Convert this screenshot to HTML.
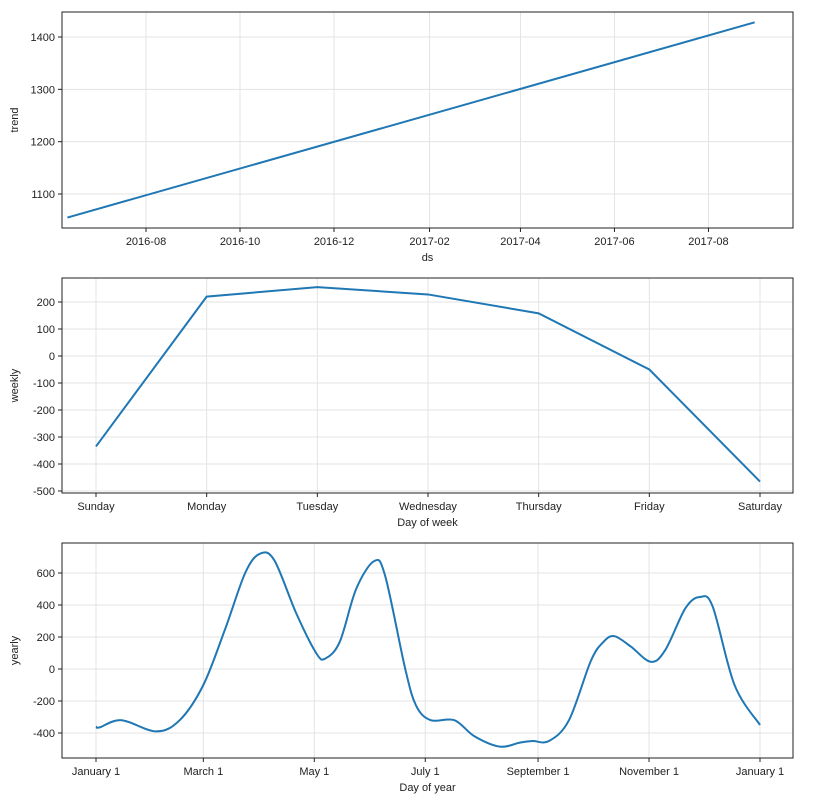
<!DOCTYPE html>
<html><head><meta charset="utf-8"><style>
body{margin:0;background:#fff;}
svg{display:block;font-family:"Liberation Sans","Noto Sans CJK KR",sans-serif;font-size:11px;fill:#222;}
</style></head><body>
<svg id="c" width="818" height="809"></svg>
<script>
const trendDates=["2016-06-11","2017-08-31"];
const trendValues=[1055,1428];
const trendTicks=[1100,1200,1300,1400];
const trendXTicks=["2016-08","2016-10","2016-12","2017-02","2017-04","2017-06","2017-08"];
const weekDays=["Sunday","Monday","Tuesday","Wednesday","Thursday","Friday","Saturday"];
const weeklyValues=[-335,220,255,228,158,-50,-465];
const weeklyTicks=[-500,-400,-300,-200,-100,0,100,200];
const yearDays=[0,2,14,33,46,59,71,82,90,98,110,121,126,134,143,153,159,170,176,184,197,208,222,233,240,249,260,272,279,285,294,305,313,324,332,339,351,365];
const yearlyValues=[-360,-365,-320,-390,-320,-100,250,600,720,680,350,100,65,170,500,675,580,0,-230,-320,-320,-420,-485,-460,-450,-450,-320,50,170,205,140,45,120,380,450,390,-100,-350];
const yearlyTicks=[-400,-200,0,200,400,600];
const yearTickLabels=["January 1","March 1","May 1","July 1","September 1","November 1","January 1"];
const yearTickDays=[0,59,120,181,243,304,365];

const svg=document.getElementById('c');
const NS='http://www.w3.org/2000/svg';
function mk(tag,attrs,parent){const e=document.createElementNS(NS,tag);for(const k in attrs)e.setAttribute(k,attrs[k]);(parent||svg).appendChild(e);return e;}
const L=62,R=793,COL='#1f77b4';
function lin(d0,d1,r0,r1){return v=>r0+(v-d0)*(r1-r0)/(d1-d0);}
function frame(top,bot,name,ylabel,xlabel,yTicks,ys,xTicks,xs,xLabels){
  const g=mk('g',{});
  
  
  xTicks.forEach((t,i)=>{const x=xs(t);
    const gl=mk('line',{x1:x,x2:x,y1:top,y2:bot,stroke:'#e3e3e3','stroke-width':1},g);
    
    mk('line',{x1:x,x2:x,y1:bot,y2:bot+4,stroke:'#222'},g);
    const tx=mk('text',{x:x,y:bot+17,'text-anchor':'middle'},g);tx.textContent=xLabels[i];
    
  });
  yTicks.forEach(t=>{const y=ys(t);
    const gl=mk('line',{x1:L,x2:R,y1:y,y2:y,stroke:'#e3e3e3','stroke-width':1},g);
    
    mk('line',{x1:L-4,x2:L,y1:y,y2:y,stroke:'#222'},g);
    const tx=mk('text',{x:L-7,y:y+4,'text-anchor':'end'},g);tx.textContent=t;
    
  });
  const r=mk('rect',{x:L,y:top,width:R-L,height:bot-top,fill:'none',stroke:'#222','stroke-width':1},g);
  
  const yl=mk('text',{x:0,y:0,'text-anchor':'middle',transform:`translate(18,${(top+bot)/2}) rotate(-90)`},g);yl.textContent=ylabel;
  
  const xl=mk('text',{x:(L+R)/2,y:bot+33,'text-anchor':'middle'},g);xl.textContent=xlabel;
  
  return g;
}
// Panel 1
const t0=Date.UTC(2016,7,1),t1=Date.UTC(2016,9,1);
const tx1=lin(t0,t1,146,240);
const ty1=lin(1100,1400,194,37);
const parseD=s=>{const p=s.split('-').map(Number);return Date.UTC(p[0],p[1]-1,p[2]||1);};
const g1=frame(12,228,'trend-panel','trend','ds',trendTicks,ty1,trendXTicks.map(parseD),tx1,trendXTicks);
const p1=mk('polyline',{points:trendDates.map((d,i)=>tx1(parseD(d))+','+ty1(trendValues[i])).join(' '),fill:'none',stroke:COL,'stroke-width':2},g1);

// Panel 2
const wx=lin(0,6,96,760),wy=lin(0,200,356,302);
const g2=frame(278,493,'weekly-panel','weekly','Day of week',weeklyTicks,wy,weekDays.map((d,i)=>i),wx,weekDays);
const p2=mk('polyline',{points:weeklyValues.map((v,i)=>wx(i)+','+wy(v)).join(' '),fill:'none',stroke:COL,'stroke-width':2},g2);

// Panel 3
const yx=lin(0,365,96,760),yy=lin(0,600,669,573);
const g3=frame(543,758,'yearly-panel','yearly','Day of year',yearlyTicks,yy,yearTickDays,yx,yearTickLabels);
const pts=yearDays.map((d,i)=>[yx(d),yy(yearlyValues[i])]);
let d='M'+pts[0][0]+','+pts[0][1];
for(let i=0;i<pts.length-1;i++){
  const p0=pts[Math.max(0,i-1)],a=pts[i],b=pts[i+1],p3=pts[Math.min(pts.length-1,i+2)];
  const c1=[a[0]+(b[0]-p0[0])/6,a[1]+(b[1]-p0[1])/6],c2=[b[0]-(p3[0]-a[0])/6,b[1]-(p3[1]-a[1])/6];
  d+=` C${c1[0]},${c1[1]} ${c2[0]},${c2[1]} ${b[0]},${b[1]}`;
}
const p3=mk('path',{d:d,fill:'none',stroke:COL,'stroke-width':2},g3);

</script>
</body></html>
